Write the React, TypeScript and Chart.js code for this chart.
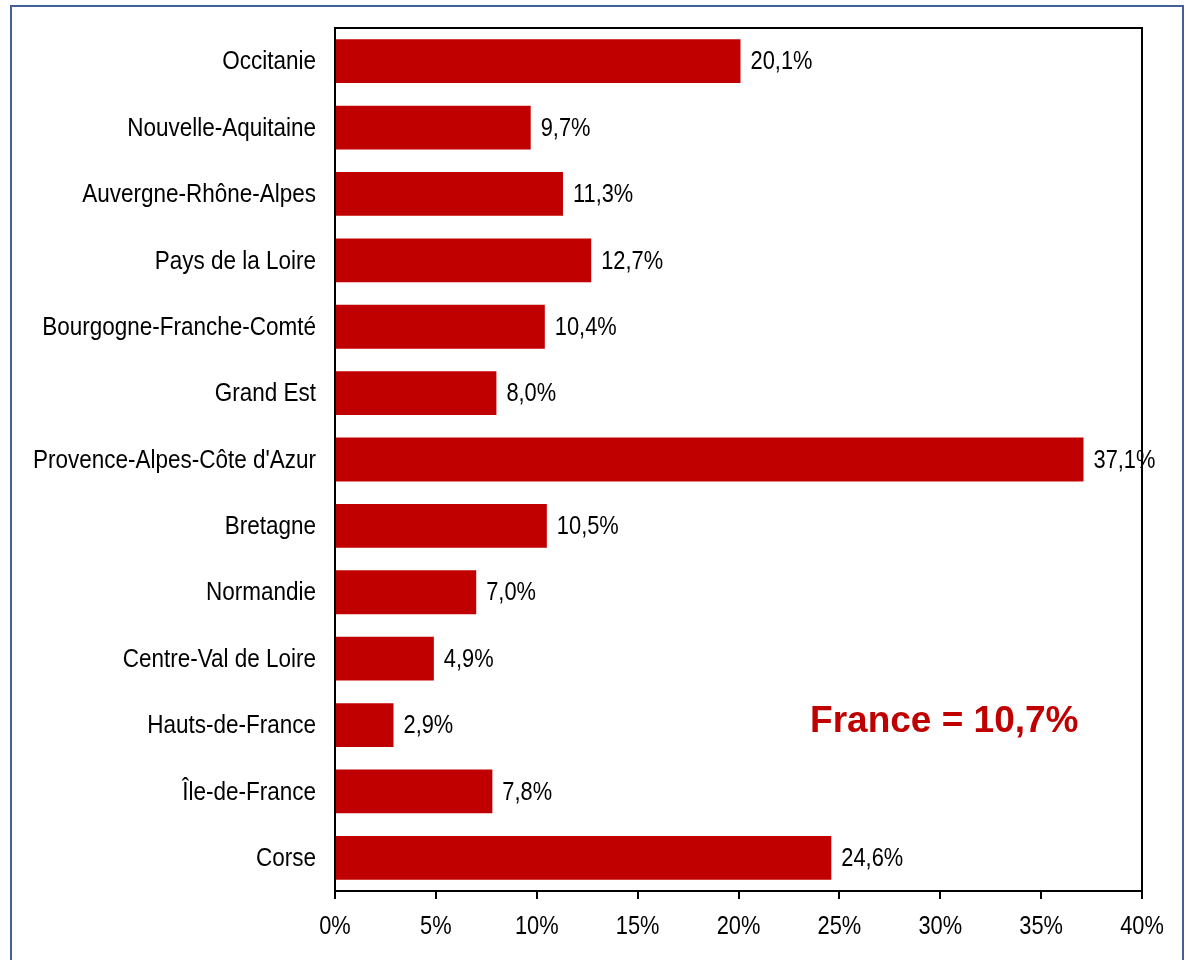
import React, { useEffect, useRef } from "react";
import { Chart, registerables } from "chart.js";

Chart.register(...registerables);

const categories = [
  "Occitanie",
  "Nouvelle-Aquitaine",
  "Auvergne-Rhône-Alpes",
  "Pays de la Loire",
  "Bourgogne-Franche-Comté",
  "Grand Est",
  "Provence-Alpes-Côte d'Azur",
  "Bretagne",
  "Normandie",
  "Centre-Val de Loire",
  "Hauts-de-France",
  "Île-de-France",
  "Corse",
];
const values = [20.1, 9.7, 11.3, 12.7, 10.4, 8.0, 37.1, 10.5, 7.0, 4.9, 2.9, 7.8, 24.6];
const xTicks = [0, 5, 10, 15, 20, 25, 30, 35, 40];
const annotationText = "France = 10,7%";

const SANS = "'Liberation Sans', Arial, sans-serif";
const SX_CAT = 0.865; // horizontal squeeze to mimic Arial Narrow
const SX_NUM = 0.84;
const fmt = (v: number) => v.toFixed(1).replace(".", ",") + "%";

function narrowText(ctx: any, text: string, x: number, y: number, align: string, baseline: string, sx: number) {
  ctx.save();
  ctx.translate(x, y);
  ctx.scale(sx, 1);
  ctx.textAlign = align;
  ctx.textBaseline = baseline;
  ctx.fillText(text, 0, 0);
  ctx.restore();
}

const framePlugin = {
  id: "frame",
  beforeDraw(chart: any) {
    const ctx = chart.ctx;
    ctx.save();
    ctx.fillStyle = "#ffffff";
    ctx.fillRect(0, 0, chart.width, chart.height);
    ctx.strokeStyle = "#41609A";
    ctx.lineWidth = 2;
    ctx.strokeRect(11, 6, 1172, 1000);
    ctx.restore();
  },
  afterDraw(chart: any) {
    const ctx = chart.ctx;
    const a = chart.chartArea;
    const xs = chart.scales.x;
    const ys = chart.scales.y;
    ctx.save();
    ctx.strokeStyle = "#000000";
    ctx.lineWidth = 2;
    ctx.strokeRect(a.left, a.top, a.right - a.left, a.bottom - a.top);

    ctx.fillStyle = "#000000";
    ctx.font = `26px ${SANS}`;
    // category labels
    categories.forEach((c, i) => {
      narrowText(ctx, c, a.left - 19, ys.getPixelForValue(i) + 1, "right", "middle", SX_CAT);
    });
    // x tick labels
    xTicks.forEach((t) => {
      narrowText(ctx, t + "%", xs.getPixelForValue(t), a.bottom + 43, "center", "alphabetic", SX_NUM);
    });
    // data labels
    const meta = chart.getDatasetMeta(0);
    meta.data.forEach((bar: any, i: number) => {
      narrowText(ctx, fmt(values[i]), bar.x + 10, bar.y + 1, "left", "middle", SX_NUM);
    });
    // annotation
    ctx.fillStyle = "#C00000";
    ctx.font = `bold 37px ${SANS}`;
    ctx.textAlign = "center";
    ctx.textBaseline = "alphabetic";
    ctx.fillText(annotationText, xs.getPixelForValue(30.2), ys.getPixelForValue(10) + 7);
    ctx.restore();
  },
};

export default function App() {
  const ref = useRef<HTMLCanvasElement>(null);
  useEffect(() => {
    if (!ref.current) return;
    const chart = new Chart(ref.current, {
      type: "bar",
      data: {
        labels: categories,
        datasets: [
          {
            data: values,
            backgroundColor: "#C00000",
            borderWidth: 0,
            barPercentage: 0.66,
            categoryPercentage: 1,
          },
        ],
      },
      options: {
        indexAxis: "y",
        animation: false,
        responsive: false,
        devicePixelRatio: 1,
        layout: { padding: { left: 0, top: 28, right: 51, bottom: 0 } },
        plugins: { legend: { display: false }, tooltip: { enabled: false } },
        scales: {
          x: {
            min: 0,
            max: 40,
            afterBuildTicks: (s: any) => {
              s.ticks = xTicks.map((v) => ({ value: v }));
            },
            afterFit: (s: any) => {
              s.height = 69;
            },
            grid: { drawOnChartArea: false, drawTicks: true, tickLength: 8, color: "#000000", lineWidth: 2 },
            border: { display: true, color: "#000000", width: 2 },
            ticks: { display: false },
          },
          y: {
            afterFit: (s: any) => {
              s.width = 335;
            },
            grid: { display: false, drawTicks: false },
            border: { display: true, color: "#000000", width: 2 },
            ticks: { display: false },
          },
        },
      },
      plugins: [framePlugin],
    });
    return () => chart.destroy();
  }, []);
  return (
    <div style={{ position: "fixed", left: 0, top: 0, width: 1193, height: 960 }}>
      <canvas ref={ref} width={1193} height={960} style={{ display: "block" }} />
    </div>
  );
}
